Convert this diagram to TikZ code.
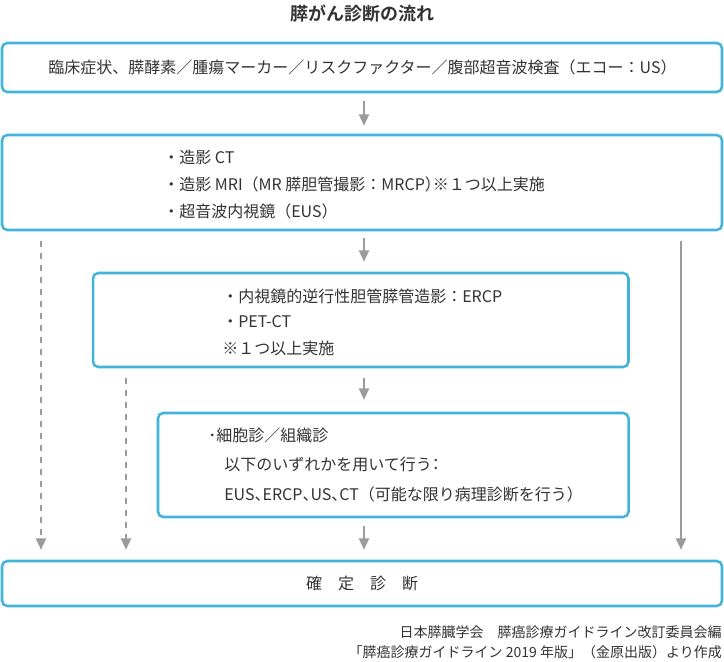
\documentclass[tikz,border=0pt]{standalone}
\usepackage{fontspec}
\setmainfont{Noto Sans CJK JP}[BoldFont={* Bold}]
\usetikzlibrary{arrows.meta}
\definecolor{boxblue}{RGB}{66,180,220}
\definecolor{arrowgray}{RGB}{155,155,155}
\definecolor{textgray}{RGB}{51,51,51}
\newcommand{\hl}[1]{\makebox[0.5em][l]{#1}}
\newcommand{\hc}[1]{\makebox[0.5em][c]{#1}}
\begin{document}
\begin{tikzpicture}[x=0.75pt,y=-0.75pt,
  box/.style={draw=boxblue,line width=1.9pt,rounded corners=4pt,inner sep=0pt},
  txt/.style={anchor=west,inner sep=0pt,text=textgray,font=\fontsize{12pt}{14pt}\selectfont},
  ctxt/.style={inner sep=0pt,text=textgray,font=\fontsize{12pt}{14pt}\selectfont},
  foot/.style={anchor=east,inner sep=0pt,text=textgray,font=\fontsize{10.5pt}{13pt}\selectfont},
  flow/.style={draw=arrowgray,line width=1.5pt,-{Triangle[width=7.5pt,length=8.5pt]}},
  dashflow/.style={flow,dash pattern=on 4.5pt off 4.5pt}]
\useasboundingbox[fill=white] (0,0) rectangle (724,661);

% title
\node[inner sep=0pt,text=textgray,font=\fontsize{13.5pt}{16pt}\selectfont\bfseries] (title) at (362,14) {膵がん診断の流れ};

% boxes
\node[box,minimum width=540pt,minimum height=36.75pt] (b1) at (362,67.5) {};
\node[box,minimum width=540pt,minimum height=71.25pt] (b2) at (362,182.5) {};
\node[box,minimum width=401.6pt,minimum height=70.5pt] (b3) at (360.75,320) {};
\node[box,minimum width=352.9pt,minimum height=78pt] (b4) at (393.25,465) {};
\node[box,minimum width=540pt,minimum height=33.75pt] (b5) at (362,583.5) {};

% texts
\node[ctxt] (t1) at (362.5,67.5) {臨床症状、膵酵素／腫瘍マーカー／リスクファクター／腹部超音波検査（エコー：US）};

\node[txt] (t21) at (163,157) {・造影 CT};
\node[txt] (t22) at (163,184) {・造影 MRI（MR 膵胆管撮影：MRCP\hl{）}※１つ以上実施};
\node[txt] (t23) at (163,211) {・超音波内視鏡（EUS）};

\node[txt] (t31) at (222,296) {・内視鏡的逆行性胆管膵管造影：ERCP};
\node[txt] (t32) at (222,322) {・PET-CT};
\node[txt] (t33) at (222,348) {※１つ以上実施};

\node[txt] (t41) at (208,435) {･細胞診／組織診};
\node[txt] (t42) at (224,464) {以下のいずれかを用いて行う\hc{：}};
\node[txt] (t43) at (224,494) {EUS\hl{、}ERCP\hl{、}US\hl{、}CT（可能な限り病理診断を行う）};

\node[ctxt] (t5) at (362,583.5) {確　定　診　断};

\node[foot] (f1) at (722,632) {日本膵臓学会　膵癌診療ガイドライン改訂委員会編};
\node[foot] (f2) at (722,652) {「膵癌診療ガイドライン 2019 年版」（金原出版）より作成};

% connector columns
\coordinate (cx) at (364,0);
\coordinate (lx) at (41,0);
\coordinate (mx) at (126,0);
\coordinate (rx) at (681,0);

\draw[flow,shorten <=6pt,shorten >=6pt] (b1.south -| cx) -- (b2.north -| cx);
\draw[flow,shorten <=5pt,shorten >=7.5pt] (b2.south -| cx) -- (b3.north -| cx);
\draw[flow,shorten <=7.5pt,shorten >=9pt] (b3.south -| cx) -- (b4.north -| cx);
\draw[flow,shorten <=6pt,shorten >=7.5pt] (b4.south -| cx) -- (b5.north -| cx);

\draw[dashflow,shorten <=7.5pt,shorten >=7.5pt] (b2.south -| lx) -- (b5.north -| lx);
\draw[dashflow,shorten <=7.5pt,shorten >=7.5pt] (b3.south -| mx) -- (b5.north -| mx);
\draw[flow,shorten <=7.5pt,shorten >=7.5pt] (b2.south -| rx) -- (b5.north -| rx);
\end{tikzpicture}
\end{document}
